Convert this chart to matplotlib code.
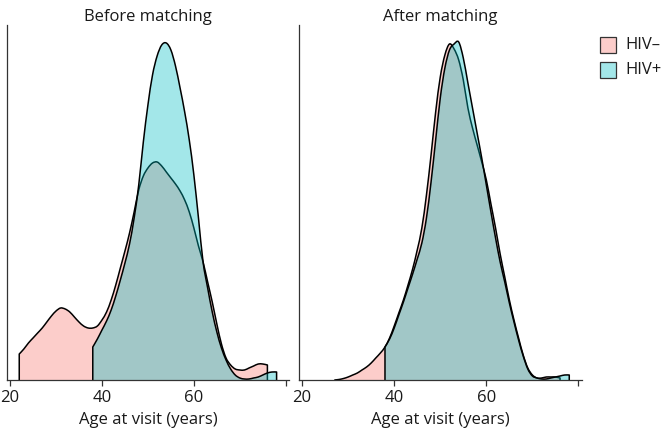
import matplotlib
matplotlib.use("Agg")
import matplotlib.pyplot as plt
from matplotlib.patches import Rectangle, PathPatch
from matplotlib.path import Path
import numpy as np

plt.rcParams['font.family'] = ['Open Sans', 'DejaVu Sans']

# ---------------- data (density curves, arbitrary density units x5000) -------------
panel_titles = ["Before matching", "After matching"]
group_labels = ["HIV\u2013", "HIV+"]
x_label = "Age at visit (years)"
x_ticks = [20, 40, 60, 80]
x_tick_labels = ["20", "40", "60", ""]

before_neg_age = list(range(22, 77))
before_neg = [26, 31, 37, 42, 47, 52, 58, 64, 69, 72, 71, 68, 63, 58, 54, 52,
              52, 54, 60, 68, 80, 95, 112, 129, 147, 168, 190, 204, 212, 217,
              218, 214, 208, 202, 196, 189, 180, 168, 152, 134, 118, 98, 78,
              56, 36, 22, 15, 11, 10, 10, 12, 14, 16, 16, 15]

before_pos_age = list(range(38, 79))
before_pos = [33, 41, 50, 59, 70, 84, 100, 117, 136, 162, 195, 238, 275, 305,
              324, 335, 337, 330, 314, 292, 268, 240, 205, 162, 118, 92, 68,
              48, 32, 20, 11, 5, 2, 1, 1, 2, 3, 5, 7, 8, 8]

after_neg_age = list(range(27, 77))
after_neg = [0, 0.5, 1.5, 3, 5, 7, 10, 13, 17, 22, 27, 33, 42, 54, 67, 80, 95,
             111, 130, 152, 185, 225, 268, 303, 325, 336, 331, 320, 300, 272,
             252, 235, 218, 200, 176, 152, 126, 103, 80, 60, 42, 25, 12, 5, 2,
             2, 3, 3, 3, 2]

after_pos_age = list(range(38, 79))
after_pos = [33, 41, 52, 65, 78, 92, 106, 121, 137, 162, 198, 240, 282, 312,
             330, 336, 338, 322, 297, 272, 247, 222, 195, 168, 142, 118, 98,
             77, 58, 40, 24, 11, 4, 2, 1, 1, 2, 3, 4, 5, 5]

DENS_UNIT = 1 / 5000.0

# ---------------- style -----------------------------------------------------------
fill_colors = ["#F8766D", "#00BFC4"]
fill_alpha = 0.36
W, H = 662, 432
fig = plt.figure(figsize=(W / 100, H / 100), dpi=100)

ax_boxes = [(7.3, 25, 289.0, 380), (299.3, 25, 581.7, 380)]
panels = [
    [(before_neg_age, before_neg), (before_pos_age, before_pos)],
    [(after_neg_age, after_neg), (after_pos_age, after_pos)],
]


def smooth_curve_path(x, y):
    """Smooth (Catmull-Rom style Bezier) drawing path through the data points."""
    n = len(x)
    px = np.r_[x[0], x, x[-1]]
    py = np.r_[y[0], y, y[-1]]
    verts = [(x[0], y[0])]
    codes = [Path.MOVETO]
    for i in range(n - 1):
        j = i + 1  # index in padded arrays
        c1 = (px[j] + (px[j + 1] - px[j - 1]) / 6, py[j] + (py[j + 1] - py[j - 1]) / 6)
        c2 = (px[j + 1] - (px[j + 2] - px[j]) / 6, py[j + 1] - (py[j + 2] - py[j]) / 6)
        verts += [c1, c2, (px[j + 1], py[j + 1])]
        codes += [Path.CURVE4] * 3
    return verts, codes


axis_col = "#333333"
for (x0, y0, x1, y1), title, curves in zip(ax_boxes, panel_titles, panels):
    ax = fig.add_axes([x0 / W, 1 - y1 / H, (x1 - x0) / W, (y1 - y0) / H])
    for (ages, dens), col in zip(curves, fill_colors):
        a = np.asarray(ages, float)
        d = np.asarray(dens, float) * DENS_UNIT
        cv, cc = smooth_curve_path(a, d)
        # fill: baseline -> curve -> baseline
        fv = [(a[0], 0)] + [cv[0]] + cv[1:] + [(a[-1], 0), (a[0], 0)]
        fc = [Path.MOVETO, Path.LINETO] + cc[1:] + [Path.LINETO, Path.CLOSEPOLY]
        ax.add_patch(PathPatch(Path(fv, fc), facecolor=col, alpha=fill_alpha,
                               edgecolor="none"))
        # outline with vertical ends
        ov = [(a[0], 0)] + [cv[0]] + cv[1:] + [(a[-1], 0)]
        oc = [Path.MOVETO, Path.LINETO] + cc[1:] + [Path.LINETO]
        ax.add_patch(PathPatch(Path(ov, oc), facecolor="none", edgecolor="black",
                               lw=1.1, joinstyle="round"))
    ax.set_xlim(19.4, 80.7)
    ax.set_ylim(0, 355 * DENS_UNIT)
    ax.set_xticks(x_ticks)
    ax.set_xticklabels(x_tick_labels)
    ax.set_yticks([])
    for s in ["top", "right"]:
        ax.spines[s].set_visible(False)
    for s in ["left", "bottom"]:
        ax.spines[s].set_color(axis_col)
        ax.spines[s].set_linewidth(0.9)
    ax.tick_params(axis="x", length=4, width=0.9, color=axis_col, pad=3.5,
                   labelsize=12, labelcolor="#1a1a1a")
    ax.set_xlabel(x_label, fontsize=12, color="#1a1a1a", labelpad=4)
    ax.set_title(title, fontsize=12, color="#1a1a1a", pad=2.5)

# legend drawn in figure pixel space
for i, (lab, col) in enumerate(zip(group_labels, fill_colors)):
    yc = 45 + i * 25
    fig.patches.append(Rectangle((600 / W, 1 - (yc + 8) / H), 16 / W, 16 / H,
                                 transform=fig.transFigure, facecolor=col,
                                 alpha=fill_alpha, edgecolor="none"))
    fig.patches.append(Rectangle((600 / W, 1 - (yc + 8) / H), 16 / W, 16 / H,
                                 transform=fig.transFigure, facecolor="none",
                                 edgecolor="#333333", lw=0.9))
    fig.text(625 / W, 1 - yc / H, lab, fontsize=12, va="center", ha="left",
             color="#1a1a1a")

fig.savefig("out.png", dpi=100)
